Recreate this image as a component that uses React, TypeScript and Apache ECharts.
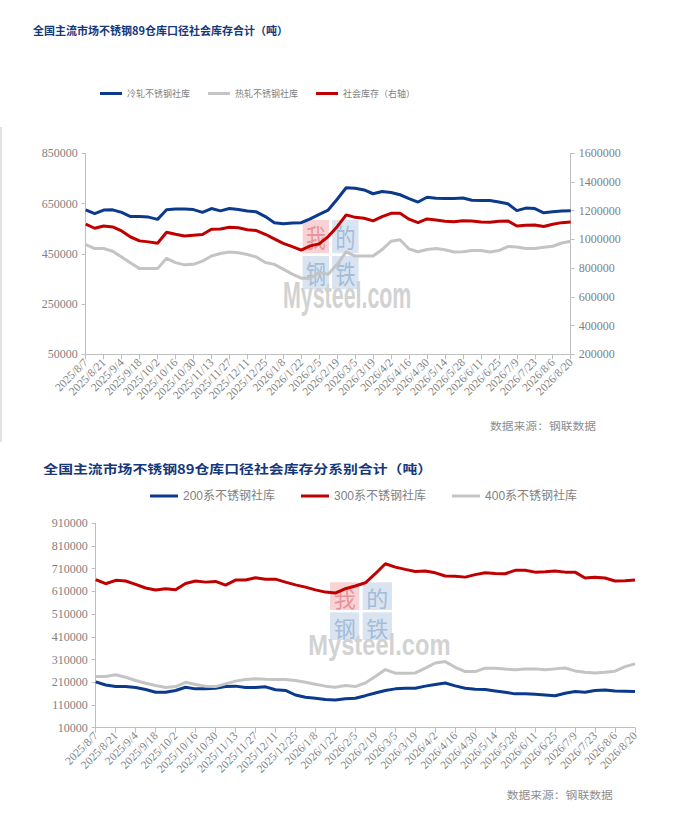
import React, { useEffect, useRef } from "react";
import * as echarts from "echarts";

const dates = [
  "2025/8/7", "2025/8/14", "2025/8/21", "2025/8/28", "2025/9/4", "2025/9/11", "2025/9/18", "2025/9/25",
  "2025/10/2", "2025/10/9", "2025/10/16", "2025/10/23", "2025/10/30", "2025/11/6", "2025/11/13", "2025/11/20",
  "2025/11/27", "2025/12/4", "2025/12/11", "2025/12/18", "2025/12/25", "2026/1/1", "2026/1/8", "2026/1/15",
  "2026/1/22", "2026/1/29", "2026/2/5", "2026/2/12", "2026/2/19", "2026/2/26", "2026/3/5", "2026/3/12",
  "2026/3/19", "2026/3/26", "2026/4/2", "2026/4/9", "2026/4/16", "2026/4/23", "2026/4/30", "2026/5/7",
  "2026/5/14", "2026/5/21", "2026/5/28", "2026/6/4", "2026/6/11", "2026/6/18", "2026/6/25", "2026/7/2",
  "2026/7/9", "2026/7/16", "2026/7/23", "2026/7/30", "2026/8/6", "2026/8/13", "2026/8/20",
];

// Chart 1 (tons)
const coldRolled = [
  625000, 610000, 624000, 625000, 615000, 598000, 598000, 596000, 587000, 625000, 628000, 628000, 626000, 615000,
  630000, 621000, 630000, 626000, 620000, 617000, 598000, 574000, 570000, 573000, 574000, 589000, 607000, 624000,
  667000, 713000, 711000, 704000, 689000, 698000, 694000, 685000, 670000, 656000, 675000, 671000, 670000, 670000,
  672000, 663000, 662000, 662000, 656000, 649000, 622000, 632000, 630000, 613000, 617000, 620000, 621000,
];
const hotRolled = [
  487000, 471000, 471000, 460000, 437000, 413000, 391000, 391000, 391000, 432000, 415000, 406000, 408000, 421000,
  441000, 451000, 457000, 454000, 447000, 437000, 415000, 408000, 389000, 369000, 353000, 353000, 375000, 369000,
  408000, 458000, 441000, 441000, 441000, 467000, 500000, 506000, 469000, 458000, 467000, 471000, 466000, 457000,
  458000, 463000, 463000, 457000, 463000, 479000, 477000, 471000, 471000, 476000, 480000, 493000, 500000,
];
const socialTotal = [
  1106000, 1078000, 1094000, 1087000, 1059000, 1017000, 990000, 983000, 973000, 1050000, 1036000, 1024000, 1029000,
  1034000, 1071000, 1073000, 1085000, 1082000, 1068000, 1062000, 1036000, 1004000, 973000, 950000, 925000, 955000,
  969000, 1020000, 1089000, 1171000, 1154000, 1148000, 1129000, 1159000, 1182000, 1182000, 1141000, 1117000,
  1143000, 1136000, 1127000, 1124000, 1131000, 1129000, 1122000, 1120000, 1127000, 1129000, 1094000, 1099000,
  1101000, 1090000, 1106000, 1117000, 1122000,
];

// Chart 2 (tons)
const series200 = [
  212000, 198000, 191000, 191000, 187000, 178000, 166000, 166000, 174000, 188000, 181000, 181000, 184000, 191000,
  193000, 187000, 187000, 190000, 177000, 174000, 154000, 144000, 140000, 134000, 132000, 137000, 140000, 151000,
  163000, 174000, 181000, 184000, 184000, 193000, 200000, 207000, 194000, 184000, 179000, 178000, 172000, 166000,
  159000, 160000, 157000, 154000, 151000, 162000, 169000, 166000, 174000, 176000, 172000, 171000, 169000,
];
const series300 = [
  662000, 644000, 659000, 656000, 641000, 625000, 616000, 622000, 617000, 645000, 656000, 651000, 654000, 638000,
  660000, 660000, 670000, 664000, 664000, 651000, 639000, 629000, 617000, 607000, 603000, 622000, 634000, 648000,
  688000, 732000, 717000, 707000, 698000, 700000, 692000, 678000, 677000, 673000, 684000, 692000, 689000, 688000,
  703000, 703000, 695000, 697000, 700000, 695000, 695000, 669000, 672000, 669000, 656000, 657000, 660000,
];
const series400 = [
  235000, 235000, 243000, 232000, 218000, 206000, 196000, 187000, 191000, 210000, 200000, 193000, 191000, 203000,
  215000, 222000, 225000, 223000, 222000, 222000, 218000, 210000, 201000, 193000, 188000, 196000, 191000, 207000,
  235000, 266000, 250000, 250000, 251000, 272000, 295000, 301000, 276000, 257000, 257000, 272000, 272000, 268000,
  265000, 268000, 269000, 265000, 269000, 273000, 260000, 254000, 251000, 254000, 259000, 279000, 291000,
];

const leftTicks1 = [50000, 250000, 450000, 650000, 850000];
const ticks2 = [10000, 110000, 210000, 310000, 410000, 510000, 610000, 710000, 810000, 910000];

const title1 = "全国主流市场不锈钢89仓库口径社会库存合计（吨）";
const title2 = "全国主流市场不锈钢89仓库口径社会库存分系别合计（吨）";
const sourceText = "数据来源：钢联数据";
const names1 = ["冷轧不锈钢社库", "热轧不锈钢社库", "社会库存（右轴）"];
const names2 = ["200系不锈钢社库", "300系不锈钢社库", "400系不锈钢社库"];

const BLUE = "#0b3a8c";
const GRAY = "#c4c4c4";
const RED = "#c00000";
const AXIS = "#bfbfbf";
const LABEL = "#7f7f7f";
const SERIF = "'Liberation Serif', 'Times New Roman', serif";
const CJK = "'Noto Sans CJK SC', sans-serif";

function logo(ox: number, oy: number, sx: number, sy: number): any[] {
  const els: any[] = [];
  const sq = (cx: number, cy: number, ch: string, bg: string, fg: string) => {
    els.push({
      type: "rect", z: 1, silent: true,
      shape: { x: ox + cx * sx, y: oy + cy * sy, width: 29.3 * sx, height: 27.7 * sy },
      style: { fill: bg },
    });
    els.push({
      type: "text", z: 2, silent: true,
      x: ox + (cx + 14.65) * sx, y: oy + (cy + 14.2) * sy, scaleX: sx, scaleY: sy,
      style: {
        x: 0, y: 0, text: ch, fill: fg, fontSize: 22, fontFamily: CJK,
        textAlign: "center", textVerticalAlign: "middle",
      },
    });
  };
  sq(21.7, 0, "我", "#f8d3d6", "#e9949c");
  sq(54.4, 0, "的", "#d9e4f0", "#a3bcd9");
  sq(21.7, 30, "钢", "#d9e4f0", "#a3bcd9");
  sq(54.4, 30, "铁", "#d9e4f0", "#a3bcd9");
  els.push({
    type: "text", z: 2, silent: true,
    x: ox, y: oy + 63 * sy, scaleX: 0.79 * sx, scaleY: sy,
    style: {
      x: 0, y: 0, text: "Mysteel.com", fill: "#d2d2d2", fontSize: 30, fontWeight: "bold",
      fontFamily: "'Liberation Sans', Arial, sans-serif", textAlign: "left", textVerticalAlign: "middle",
    },
  });
  return els;
}

function xAxisFor(gridIndex: number) {
  return {
    type: "category", gridIndex, data: dates, boundaryGap: false,
    axisLine: { show: true, lineStyle: { color: AXIS, width: 1 } },
    axisTick: { show: true, interval: 1, length: 5, lineStyle: { color: AXIS } },
    axisLabel: { interval: 1, rotate: 45, fontSize: 11.5, fontFamily: SERIF, color: LABEL, margin: 6 },
    splitLine: { show: false },
  };
}

const valueLabel = { fontSize: 12, fontFamily: SERIF, color: LABEL, margin: 8, formatter: (v: number) => String(v) };

export default function App() {
  const ref = useRef<HTMLDivElement>(null);
  useEffect(() => {
    document.body.style.margin = "0";
    if (!ref.current) return;
    const chart = echarts.init(ref.current, undefined, { renderer: "svg" });
    const lineSeries = (name: string, data: number[], color: string, xi: number, yi: number) => ({
      name, type: "line", xAxisIndex: xi, yAxisIndex: yi, data, symbol: "none", showSymbol: false,
      lineStyle: { color, width: 3 }, itemStyle: { color }, z: 3,
    });
    chart.setOption({
      animation: false,
      backgroundColor: "#ffffff",
      grid: [
        { left: 85.7, top: 153.3, width: 485, height: 201 },
        { left: 95.7, top: 523.3, width: 539.3, height: 204.4 },
      ],
      legend: [
        {
          data: names1, left: 95, top: 82.5, icon: "rect", itemWidth: 22, itemHeight: 3, itemGap: 18,
          textStyle: { fontSize: 9, color: LABEL, fontFamily: CJK, lineHeight: 12 },
        },
        {
          data: names2, left: 145, top: 484, icon: "rect", itemWidth: 28, itemHeight: 3, itemGap: 26,
          textStyle: { fontSize: 12, color: LABEL, fontFamily: "'Liberation Sans', 'Noto Sans CJK SC', sans-serif", lineHeight: 14 },
        },
      ],
      xAxis: [xAxisFor(0), xAxisFor(1)],
      yAxis: [
        {
          type: "value", gridIndex: 0, position: "left", min: 50000, max: 850000,
          axisLine: { show: true, lineStyle: { color: AXIS } },
          axisTick: { show: true, length: 4, customValues: leftTicks1, lineStyle: { color: AXIS } },
          axisLabel: { ...valueLabel, customValues: leftTicks1 },
          splitLine: { show: false },
        },
        {
          type: "value", gridIndex: 0, position: "right", min: 200000, max: 1600000, interval: 200000,
          axisLine: { show: true, lineStyle: { color: AXIS } },
          axisTick: { show: true, length: 4, lineStyle: { color: AXIS } },
          axisLabel: { ...valueLabel },
          splitLine: { show: false },
        },
        {
          type: "value", gridIndex: 1, position: "left", min: 10000, max: 910000,
          axisLine: { show: true, lineStyle: { color: AXIS } },
          axisTick: { show: true, length: 4, customValues: ticks2, lineStyle: { color: AXIS } },
          axisLabel: { ...valueLabel, customValues: ticks2 },
          splitLine: { show: false },
        },
      ],
      series: [
        lineSeries(names1[0], coldRolled, BLUE, 0, 0),
        lineSeries(names1[1], hotRolled, GRAY, 0, 0),
        lineSeries(names1[2], socialTotal, RED, 0, 1),
        lineSeries(names2[0], series200, BLUE, 1, 2),
        lineSeries(names2[1], series300, RED, 1, 2),
        lineSeries(names2[2], series400, GRAY, 1, 2),
      ],
      graphic: [
        { type: "line", shape: { x1: 1, y1: 127, x2: 1, y2: 442 }, style: { stroke: "#d9d9d9", lineWidth: 1.5 }, silent: true },
        ...logo(283, 220, 0.903, 1.2),
        ...logo(308.3, 582.3, 1, 1),
        {
          type: "text", x: 33, y: 30,
          style: { x: 0, y: 0, text: title1, fill: "#15387a", fontSize: 11, fontWeight: "bold", fontFamily: CJK, textAlign: "left", textVerticalAlign: "middle" },
        },
        {
          type: "text", x: 43.3, y: 468.3, scaleX: 1.19,
          style: { x: 0, y: 0, text: title2, fill: "#15387a", fontSize: 12.5, fontWeight: "bold", fontFamily: CJK, textAlign: "left", textVerticalAlign: "middle" },
        },
        {
          type: "text", x: 490, y: 425, scaleX: 1.18,
          style: { x: 0, y: 0, text: sourceText, fill: "#8c8c8c", fontSize: 10, fontFamily: CJK, textAlign: "left", textVerticalAlign: "middle" },
        },
        {
          type: "text", x: 506.7, y: 794, scaleX: 1.18,
          style: { x: 0, y: 0, text: sourceText, fill: "#8c8c8c", fontSize: 10, fontFamily: CJK, textAlign: "left", textVerticalAlign: "middle" },
        },
      ],
    });
    return () => chart.dispose();
  }, []);
  return <div ref={ref} style={{ width: 681, height: 821 }} />;
}
